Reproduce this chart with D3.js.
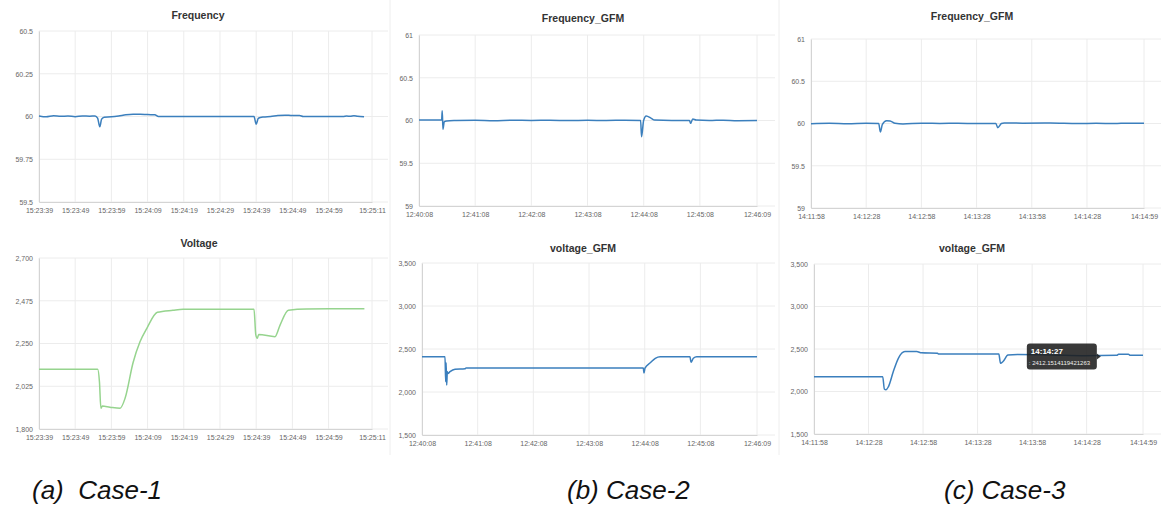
<!DOCTYPE html>
<html lang="en">
<head>
<meta charset="UTF-8">
<title>Frequency and voltage, three cases</title>
<style>
body { margin: 0; background: #fff; }
svg { display: block; font-family: "Liberation Sans", Arial, sans-serif; }
.grid line { stroke: #ececec; stroke-width: 1; }
.axis { font-family: "Liberation Sans", Arial, sans-serif; }
.axis path { stroke: #d4d4d4; }
.axis text { fill: #666; font-size: 7px; }
.title { font-size: 10.5px; font-weight: bold; fill: #333; text-anchor: middle; }
.caption { font-size: 26px; font-style: italic; fill: #111; }
.frame { stroke: #eeeeee; stroke-width: 1; }
</style>
<script src="https://cdn.jsdelivr.net/npm/d3@7"></script>
</head>
<body>
<div id="chart"></div>
<script>
// x tick labels (first and last are the ends of each time axis)
var ticksA = ["15:23:39","15:23:49","15:23:59","15:24:09","15:24:19","15:24:29","15:24:39","15:24:49","15:24:59","15:25:11"];
var ticksB = ["12:40:08","12:41:08","12:42:08","12:43:08","12:44:08","12:45:08","12:46:09"];
var ticksC = ["14:11:58","14:12:28","14:12:58","14:13:28","14:13:58","14:14:28","14:14:59"];

// y tick values
var freqTicksA = [59.5, 59.75, 60, 60.25, 60.5];
var voltTicksA = [1800, 2025, 2250, 2475, 2700];
var freqTicksGFM = [59, 59.5, 60, 60.5, 61];
var voltTicksGFM = [1500, 2000, 2500, 3000, 3500];

// series: seconds after the first tick, and the value
var freqASec = [0,2,4,6,8,10,12,14,15.5,16.2,16.8,17.3,18,20,22,24,26,28,30,32,33,40,50,59.4,60,60.6,62,64,66,68,70,72,73,80,84,85,86,87,88,89.8];
var freqAVal = [60.003,59.998,60.004,60.001,60.003,59.999,60.003,60.002,60.003,59.99,59.94,59.985,59.996,59.998,60.003,60.01,60.013,60.013,60.011,60.01,60.0,60.0,60.0,60.0,59.955,59.99,59.997,60.0,60.006,60.008,60.006,60.006,60.0,60.0,60.0,60.003,60.001,60.004,60.001,59.998];

var voltASec = [0,16.2,16.7,17.1,17.5,19.6,22.4,23.8,26.0,27.9,29.8,32.7,37.0,39.8,59.4,59.9,60.3,60.7,65.2,66.6,68.9,73.9,89.9];
var voltAVal = [2115,2115,2049,1909,1921,1915,1909,1963,2150,2259,2330,2414,2425,2430,2430,2295,2277,2298,2286,2347,2425,2432,2433];

var freqBSec = [0,24.2,24.8,25.6,27.0,29.5,40,60,80,100,120,140,160,180,200,220,236.7,237.7,239.9,242.7,248.1,251.6,270,288.9,290,292.4,296,310,325,340,361];
var freqBVal = [60.006,60.006,60.115,59.897,59.986,59.995,60.0,60.004,59.998,60.003,60.0,60.003,59.999,60.002,60.0,60.003,60.0,59.81,60.0,60.053,60.025,60.005,60.0,60.0,59.967,60.018,60.005,60.0,60.004,59.998,60.0];

var voltBSec = [0,24.8,25.5,26.0,26.6,27.3,28.0,30.2,35.6,46.3,47.4,238.5,239.2,240.3,246,251.4,256.7,288.8,289.9,292.4,296,361];
var voltBVal = [2410,2410,2120,2340,2080,2236,2215,2236,2264,2270,2278,2278,2220,2278,2340,2392,2410,2410,2345,2392,2410,2410];

var freqCSec = [0,10,20,30,36.8,37.7,38.8,41.1,43,45.7,50,60,70,80,90,100.5,101.5,103.5,105,115,130,145,155,165,172,181];
var freqCVal = [59.998,60.002,59.997,60.003,60.0,59.9,59.99,60.033,60.03,60.002,59.995,60.003,60.001,60.003,59.999,60.0,59.95,60.0,60.006,60.004,60.005,59.999,60.002,59.999,60.004,60.003];

var voltCSec = [0,37.8,38.7,39.6,40.9,43.6,46.4,50,56.5,59.2,68,68.4,101.7,102.6,104,106.7,112,130,149,166.6,167.5,173,174,181];
var voltCVal = [2175,2175,2030,2020,2055,2232,2390,2470,2470,2455,2450,2440,2440,2332,2353,2428,2434,2430,2421,2426,2437,2437,2426,2426];

// hover tooltip shown in case 3
var tipTime = "14:14:27";
var tipValue = 2412.1514119421263;

var captions = ["(a)\u00a0 Case-1", "(b) Case-2", "(c) Case-3"];

var blue = "#3b7fbd", green = "#96d48e";
var parse = d3.timeParse("%H:%M:%S"), fmtT = d3.timeFormat("%H:%M:%S");
var fmtF = function(d){ return String(d); }, fmtV = d3.format(",");

var panels = [
  {title:"Frequency",     tx:198, ty:19,  l:39,  r:372,  t:31,  b:202, gr:388,  tk:ticksA, ty2:freqTicksA,   sec:freqASec, val:freqAVal, c:blue,  f:fmtF},
  {title:"Voltage",       tx:199, ty:247, l:39,  r:372,  t:258, b:429, gr:388,  tk:ticksA, ty2:voltTicksA,   sec:voltASec, val:voltAVal, c:green, f:fmtV},
  {title:"Frequency_GFM", tx:583, ty:22,  l:419, r:757,  t:35,  b:206, gr:775,  tk:ticksB, ty2:freqTicksGFM, sec:freqBSec, val:freqBVal, c:blue,  f:fmtF},
  {title:"voltage_GFM",   tx:583, ty:252, l:422, r:757,  t:263, b:435, gr:775,  tk:ticksB, ty2:voltTicksGFM, sec:voltBSec, val:voltBVal, c:blue,  f:fmtV},
  {title:"Frequency_GFM", tx:972, ty:20,  l:811, r:1144, t:39,  b:208, gr:1161, tk:ticksC, ty2:freqTicksGFM, sec:freqCSec, val:freqCVal, c:blue,  f:fmtF},
  {title:"voltage_GFM",   tx:972, ty:252, l:814, r:1143, t:264, b:434, gr:1161, tk:ticksC, ty2:voltTicksGFM, sec:voltCSec, val:voltCVal, c:blue,  f:fmtV, tip:true}
];

var svg = d3.select("#chart").append("svg")
    .attr("width", 1161)
    .attr("height", 505);

// faint edges of the three screenshots
[390, 779].forEach(function(xx){
  svg.append("line").attr("class","frame")
    .attr("x1", xx).attr("x2", xx).attr("y1", 0).attr("y2", 455);
});

panels.forEach(function(p){
  var xt = p.tk.map(parse);
  var x = d3.scaleTime().domain([xt[0], xt[xt.length-1]]).range([p.l, p.r]);
  var y = d3.scaleLinear().domain([p.ty2[0], p.ty2[p.ty2.length-1]]).range([p.b, p.t]);
  var g = svg.append("g");

  g.append("g").attr("class","grid").selectAll("line")
    .data(p.ty2).join("line")
      .attr("x1", p.l).attr("x2", p.gr)
      .attr("y1", function(d){ return y(d); })
      .attr("y2", function(d){ return y(d); });

  g.append("g").attr("class","grid").selectAll("line")
    .data(xt).join("line")
      .attr("x1", function(d){ return x(d); })
      .attr("x2", function(d){ return x(d); })
      .attr("y1", p.t).attr("y2", p.b);

  g.append("g").attr("class","axis")
    .attr("transform","translate(0," + p.b + ")")
    .call(d3.axisBottom(x).tickValues(xt).tickFormat(fmtT).tickSize(0).tickPadding(6.5));

  g.append("g").attr("class","axis")
    .attr("transform","translate(" + p.l + ",0)")
    .call(d3.axisLeft(y).tickValues(p.ty2).tickFormat(p.f).tickSize(0).tickPadding(6));

  var t0 = xt[0].getTime();
  var pts = p.sec.map(function(s, i){ return {t: new Date(t0 + s * 1000), v: p.val[i]}; });

  g.append("path").datum(pts)
    .attr("fill","none")
    .attr("stroke", p.c)
    .attr("stroke-width", 1.5)
    .attr("stroke-linejoin","round")
    .attr("d", d3.line()
      .x(function(d){ return x(d.t); })
      .y(function(d){ return y(d.v); })
      .curve(d3.curveMonotoneX));

  g.append("text").attr("class","title")
    .attr("x", p.tx).attr("y", p.ty)
    .text(p.title);

  if (p.tip) {
    var px = x(parse(tipTime)), py = y(tipValue);
    var tip = g.append("g").attr("transform","translate(" + (px - 58) + "," + (py - 13) + ")");
    tip.append("rect")
      .attr("width", 70).attr("height", 26).attr("rx", 3)
      .attr("fill", "#1e1e1e").attr("fill-opacity", 0.88);
    tip.append("path")
      .attr("d", "M70,10 L74,13 L70,16 Z")
      .attr("fill", "#1e1e1e").attr("fill-opacity", 0.88);
    tip.append("text")
      .attr("x", 4).attr("y", 11)
      .attr("fill", "#fff").attr("font-size", "8px").attr("font-weight", "bold")
      .text(tipTime);
    tip.append("text")
      .attr("x", 2).attr("y", 21.5)
      .attr("fill", "#eee").attr("font-size", "6px")
      .text(": " + tipValue);
  }
});

svg.selectAll(".caption")
  .data(captions).join("text")
    .attr("class","caption")
    .attr("x", function(d, i){ return [32, 567, 944][i]; })
    .attr("y", 499)
    .text(function(d){ return d; });
</script>
</body>
</html>
